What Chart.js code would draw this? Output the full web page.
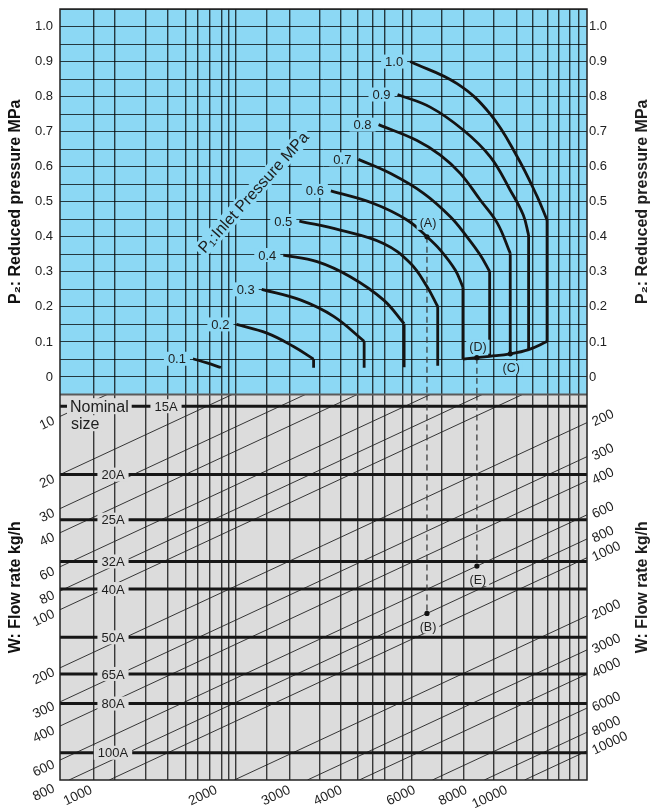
<!DOCTYPE html>
<html>
<head>
<meta charset="utf-8">
<title>Pressure reducing valve flow chart</title>
<script src="https://cdn.jsdelivr.net/npm/chart.js@4.4.1/dist/chart.umd.min.js"></script>
<style>
  html, body { margin: 0; padding: 0; background: #fff; }
  #wrap { width: 657px; height: 810px; }
</style>
</head>
<body>
<div id="wrap"><canvas id="chart" width="657" height="810"></canvas></div>
<script>
// ---- values ----
// x is the (unlabelled) flow-factor axis shared by both panels, log scale
const X_MIN = 1, X_MAX = 18.58;
const P2_MIN = -0.05, P2_MAX = 1.05;
const K_MIN = 7.70, K_MAX = 760.9;

// inlet pressure curves P1 (MPa): P2 against flow factor
const inletP1 = [0.1, 0.2, 0.3, 0.4, 0.5, 0.6, 0.7, 0.8, 0.9, 1.0];
const curveX = [
  [2.09, 2.26, 2.44],
  [2.66, 3.15, 3.65, 4.08],
  [3.06, 3.79, 4.56, 5.40],
  [3.45, 4.16, 5.00, 6.01, 6.74],
  [3.77, 4.73, 6.01, 6.97, 7.65, 8.12],
  [4.49, 5.69, 6.85, 7.65, 8.24, 8.95, 9.34],
  [5.23, 6.24, 7.51, 8.71, 9.55, 10.28, 10.83],
  [5.85, 7.24, 8.24, 9.20, 10.28, 11.30, 12.14],
  [6.50, 7.79, 9.37, 10.87, 12.14, 13.05, 13.44],
  [6.97, 9.04, 10.87, 12.60, 14.08, 14.89]
];
const curveP2 = [
  [0.052, 0.040, 0.027],
  [0.150, 0.125, 0.087, 0.051],
  [0.250, 0.220, 0.173, 0.102],
  [0.348, 0.329, 0.286, 0.220, 0.152],
  [0.445, 0.419, 0.381, 0.325, 0.258, 0.201],
  [0.531, 0.495, 0.448, 0.400, 0.362, 0.305, 0.256],
  [0.621, 0.581, 0.524, 0.457, 0.400, 0.348, 0.301],
  [0.720, 0.675, 0.633, 0.581, 0.505, 0.439, 0.353],
  [0.806, 0.770, 0.704, 0.628, 0.533, 0.462, 0.405],
  [0.900, 0.837, 0.750, 0.630, 0.516, 0.448]
];
// where the vertical end of each curve stops (null = no vertical part)
const dropP2 = [null, 0.026, 0.026, 0.028, 0.032, 0.051, 0.059, 0.066, 0.078, 0.101];

const p2Labels = [0, 0.1, 0.2, 0.3, 0.4, 0.5, 0.6, 0.7, 0.8, 0.9, 1.0];
const gridX = [1.203, 1.357, 1.606, 1.814, 2.004, 2.147, 2.290, 2.453, 2.545, 2.656,
  3.149, 3.569, 4.232, 4.747, 5.205, 5.647, 6.036, 6.672, 7.013, 8.282, 9.357,
  11.07, 12.60, 13.77, 14.94, 15.88, 16.85, 17.71];

// nominal sizes, as a size factor so that W = x * factor
const sizeNames = ['15A', '20A', '25A', '32A', '40A', '50A', '65A', '80A', '100A'];
const sizeFactor = [8.85, 20.0, 34.2, 56.3, 78.2, 139, 215, 306, 550];

// flow rate lines W (kg/h) and where they are labelled
const flowW = [10, 20, 30, 40, 60, 80, 100, 200, 300, 400, 600, 800,
  1000, 2000, 3000, 4000, 6000, 8000, 10000];
const flowLeft = [10, 20, 30, 40, 60, 80, 100, 200, 300, 400, 600, 800];
const flowRight = [200, 300, 400, 600, 800, 1000, 2000, 3000, 4000, 6000, 8000, 10000];
const flowBottom = [1000, 2000, 3000, 4000, 6000, 8000, 10000];

// worked examples: (A)->(B) and (D)->(E), (C) marks the 0.8 curve end
const exampleX = [7.65, 10.09];
const exampleP2 = [0.40, 0.055];
const exampleW = [800, 600];
const exampleTop = ['(A)', '(D)'];
const exampleBottom = ['(B)', '(E)'];

const FONT = '"Liberation Sans", Arial, Helvetica, sans-serif';
const BLUE = '#8cd8f4';
const GREY = '#dcdcdc';
const INK = '#1e1e1e';
const GRID = 'rgba(0,0,0,0.74)';

Chart.defaults.font.family = FONT;
Chart.defaults.color = INK;

function p2Tick(v) {
  const r = Math.round(v * 100);
  const hit = p2Labels.find(t => Math.round(t * 100) === r);
  if (hit === undefined) return '';
  return hit === 0 ? '0' : hit.toFixed(1);
}

// ---- datasets ----
const datasets = [];

// dots
datasets.push({
  yAxisID: 'p2', showLine: false, pointRadius: 2.6, pointBackgroundColor: '#111', pointBorderWidth: 0,
  data: exampleX.map((x, i) => ({ x, y: exampleP2[i] }))
    .concat([{ x: curveX[7][curveX[7].length - 1], y: dropP2[7] }])
});
datasets.push({
  yAxisID: 'k', showLine: false, pointRadius: 2.6, pointBackgroundColor: '#111', pointBorderWidth: 0,
  data: exampleX.map((x, i) => ({ x, y: exampleW[i] / x }))
});

// P1 curves
inletP1.forEach((p1, i) => {
  datasets.push({
    yAxisID: 'p2', borderColor: '#141414', borderWidth: 2.8, pointRadius: 0,
    tension: 0.4,
    data: curveX[i].map((x, j) => ({ x, y: curveP2[i][j] }))
  });
  if (dropP2[i] !== null) {
    const lx = curveX[i][curveX[i].length - 1];
    datasets.push({
      yAxisID: 'p2', borderColor: '#141414', borderWidth: 2.8, pointRadius: 0,
      data: [{ x: lx, y: curveP2[i][curveP2[i].length - 1] }, { x: lx, y: dropP2[i] }]
    });
  }
});

// (C) line joining the vertical ends of 0.6 .. 1.0
datasets.push({
  yAxisID: 'p2', borderColor: '#141414', borderWidth: 2.8, pointRadius: 0,
  tension: 0.4,
  data: inletP1.map((p, i) => i).filter(i => inletP1[i] >= 0.6)
    .map(i => ({ x: curveX[i][curveX[i].length - 1], y: dropP2[i] }))
});

// dashed example lines, split over the two panels
exampleX.forEach((x, i) => {
  datasets.push({
    yAxisID: 'p2', borderColor: '#333', borderWidth: 1.2, borderDash: [6, 4], pointRadius: 0,
    data: [{ x, y: exampleP2[i] }, { x, y: P2_MIN }]
  });
  datasets.push({
    yAxisID: 'k', borderColor: '#333', borderWidth: 1.2, borderDash: [6, 4], pointRadius: 0,
    data: [{ x, y: K_MIN }, { x, y: exampleW[i] / x }]
  });
});

// nominal size lines
sizeFactor.forEach(f => {
  datasets.push({
    yAxisID: 'k', borderColor: '#161616', borderWidth: 3, pointRadius: 0,
    data: [{ x: X_MIN, y: f }, { x: X_MAX, y: f }]
  });
});

// flow rate lines, kept inside the lower panel
flowW.forEach(w => {
  const x1 = Math.max(X_MIN, w / K_MAX);
  const x2 = Math.min(X_MAX, w / K_MIN);
  if (x1 >= x2) return;
  datasets.push({
    yAxisID: 'k', borderColor: '#222', borderWidth: 0.9, pointRadius: 0,
    data: [{ x: x1, y: w / x1 }, { x: x2, y: w / x2 }]
  });
});

// ---- drawing helpers ----
function boxText(ctx, text, x, y, o) {
  ctx.save();
  ctx.translate(x, y);
  if (o.angle) ctx.rotate(o.angle);
  ctx.font = o.font;
  const w = ctx.measureText(text).width;
  const x0 = o.align === 'right' ? -w : o.align === 'center' ? -w / 2 : 0;
  if (o.bg) {
    ctx.fillStyle = o.bg;
    ctx.fillRect(x0 - o.pad, -o.h / 2, w + o.pad * 2, o.h);
  }
  ctx.fillStyle = INK;
  ctx.textAlign = 'left';
  ctx.textBaseline = 'middle';
  ctx.fillText(text, x0, 1);
  ctx.restore();
}

const decor = {
  id: 'decor',
  beforeDraw(chart) {
    const { ctx, chartArea: a, scales: { p2, k } } = chart;
    ctx.save();
    ctx.fillStyle = BLUE;
    ctx.fillRect(a.left, p2.top, a.right - a.left, p2.bottom - p2.top);
    ctx.fillStyle = GREY;
    ctx.fillRect(a.left, k.top, a.right - a.left, k.bottom - k.top);
    ctx.restore();
  },
  afterDatasetsDraw(chart) {
    const { ctx, chartArea: a, scales: { x, p2, k } } = chart;
    const small = '13px ' + FONT;

    // nominal size labels
    sizeNames.forEach((name, i) => {
      const y = k.getPixelForValue(sizeFactor[i]);
      const cx = i === 0 ? a.left + 106 : a.left + 53;
      boxText(ctx, name, cx, y, { font: small, align: 'center', bg: GREY, pad: 4, h: 14 });
    });
    const y15 = k.getPixelForValue(sizeFactor[0]);
    boxText(ctx, 'Nominal', a.left + 10, y15, { font: '16px ' + FONT, align: 'left', bg: GREY, pad: 3, h: 16 });
    boxText(ctx, 'size', a.left + 11, y15 + 17, { font: '16px ' + FONT, align: 'left', bg: GREY, pad: 2, h: 16 });

    // P1 curve labels
    inletP1.forEach((p1, i) => {
      const px = x.getPixelForValue(curveX[i][0]);
      const py = p2.getPixelForValue(curveP2[i][0]);
      boxText(ctx, p1.toFixed(1), px - 7, py, { font: small, align: 'right', bg: BLUE, pad: 4, h: 14 });
    });

    // rotated axis name of the curves
    boxText(ctx, 'P\u2081:Inlet Pressure MPa', x.getPixelForValue(2.92), p2.getPixelForValue(0.527),
      { font: '16px ' + FONT, align: 'center', bg: BLUE, pad: 3, h: 17, angle: -48 * Math.PI / 180 });

    // example markers
    const tagFont = '12.5px ' + FONT;
    exampleX.forEach((ex, i) => {
      const px = x.getPixelForValue(ex);
      const pt = p2.getPixelForValue(exampleP2[i]);
      boxText(ctx, exampleTop[i], px + 1, pt + (i === 0 ? -14 : -11), { font: tagFont, align: 'center', bg: BLUE, pad: 3, h: 14 });
      const pb = k.getPixelForValue(exampleW[i] / ex);
      boxText(ctx, exampleBottom[i], px + 1, pb + 13, { font: tagFont, align: 'center', bg: GREY, pad: 3, h: 14 });
    });
    const cx = x.getPixelForValue(curveX[7][curveX[7].length - 1]);
    const cy = p2.getPixelForValue(dropP2[7]);
    boxText(ctx, '(C)', cx + 1, cy + 14, { font: tagFont, align: 'center', bg: BLUE, pad: 3, h: 14 });

    // flow rate labels along the line ends
    const wFont = '13.5px ' + FONT;
    flowW.forEach(w => {
      const pL = { x: x.getPixelForValue(X_MIN), y: k.getPixelForValue(w / X_MIN) };
      const pR = { x: x.getPixelForValue(X_MAX), y: k.getPixelForValue(w / X_MAX) };
      const ang = Math.atan2(pR.y - pL.y, pR.x - pL.x);
      const ux = Math.cos(ang), uy = Math.sin(ang);
      if (flowLeft.includes(w)) {
        boxText(ctx, String(w), pL.x - 7 * ux, pL.y - 7 * uy, { font: wFont, align: 'right', angle: ang });
      }
      if (flowRight.includes(w)) {
        boxText(ctx, String(w), pR.x + 6 * ux, pR.y + 6 * uy + 2, { font: wFont, align: 'left', angle: ang });
      }
      if (flowBottom.includes(w)) {
        const kb = k.getValueForPixel(a.bottom);
        const pB = { x: x.getPixelForValue(w / kb), y: a.bottom };
        boxText(ctx, String(w), pB.x - 20 * ux, pB.y - 20 * uy, { font: wFont, align: 'right', angle: ang });
      }
    });

    // right-hand axis names (read bottom to top like the left ones)
    ctx.save();
    ctx.fillStyle = INK;
    ctx.font = 'bold 16px ' + FONT;
    ctx.textAlign = 'center';
    ctx.textBaseline = 'middle';
    [[p2, 'P\u2082: Reduced pressure MPa'], [k, 'W: Flow rate kg/h']].forEach(([s, t]) => {
      ctx.save();
      ctx.translate(a.right + 56, (s.top + s.bottom) / 2);
      ctx.rotate(-Math.PI / 2);
      ctx.fillText(t, 0, 0);
      ctx.restore();
    });
    ctx.restore();

    // frame and panel split
    ctx.save();
    ctx.strokeStyle = '#5a5a5a';
    ctx.lineWidth = 2;
    ctx.beginPath();
    ctx.moveTo(a.left, p2.bottom);
    ctx.lineTo(a.right, p2.bottom);
    ctx.stroke();
    ctx.strokeStyle = '#222';
    ctx.lineWidth = 1.5;
    ctx.strokeRect(a.left, a.top, a.right - a.left, a.bottom - a.top);
    ctx.restore();
  }
};

// axes keep a fixed width and ask for no extra edge padding
function fixWidth(w) {
  return s => { s.width = w; s.paddingTop = 0; s.paddingBottom = 0; };
}

new Chart(document.getElementById('chart'), {
  type: 'line',
  data: { datasets },
  plugins: [decor],
  options: {
    responsive: false,
    animation: false,
    devicePixelRatio: 1,
    events: [],
    layout: { padding: { top: 9, bottom: 30, left: 0, right: 0 } },
    plugins: { legend: { display: false }, tooltip: { enabled: false } },
    scales: {
      x: {
        type: 'logarithmic', min: X_MIN, max: X_MAX, position: 'bottom',
        ticks: { display: false },
        border: { display: false },
        grid: { color: GRID, lineWidth: 1.4, drawTicks: false },
        afterBuildTicks: s => { s.ticks = gridX.map(v => ({ value: v })); },
        afterFit: s => { s.height = 0; s.paddingLeft = 0; s.paddingRight = 0; }
      },
      p2: {
        type: 'linear', position: 'left', stack: 'L', stackWeight: 1, weight: 2,
        min: P2_MIN, max: P2_MAX,
        ticks: { stepSize: 0.05, maxTicksLimit: 40, autoSkip: false, callback: p2Tick, font: { size: 13 }, color: '#222', padding: 7 },
        grid: { color: GRID, lineWidth: 1, drawTicks: false },
        border: { display: false },
        title: { display: true, text: 'P\u2082: Reduced pressure MPa', font: { size: 16, weight: 'bold' }, color: '#111', padding: { top: 6, bottom: 0 } },
        afterFit: fixWidth(60)
      },
      k: {
        type: 'logarithmic', position: 'left', stack: 'L', stackWeight: 1, weight: 1,
        reverse: true, min: K_MIN, max: K_MAX,
        ticks: { display: false },
        grid: { display: false, drawTicks: false },
        border: { display: false },
        title: { display: true, text: 'W: Flow rate kg/h', font: { size: 16, weight: 'bold' }, color: '#111', padding: { top: 6, bottom: 0 } },
        afterFit: fixWidth(60)
      },
      p2r: {
        type: 'linear', position: 'right', stack: 'R', stackWeight: 1, weight: 1,
        min: P2_MIN, max: P2_MAX,
        ticks: { stepSize: 0.05, maxTicksLimit: 40, autoSkip: false, callback: p2Tick, font: { size: 13 }, color: '#222', padding: 2 },
        grid: { display: false, drawTicks: false },
        border: { display: false },
        afterFit: fixWidth(70)
      },
      kr: {
        type: 'logarithmic', position: 'right', stack: 'R', stackWeight: 1, weight: 2,
        reverse: true, min: K_MIN, max: K_MAX,
        ticks: { display: false },
        grid: { display: false, drawTicks: false },
        border: { display: false },
        afterFit: fixWidth(70)
      }
    }
  }
});
</script>
</body>
</html>
